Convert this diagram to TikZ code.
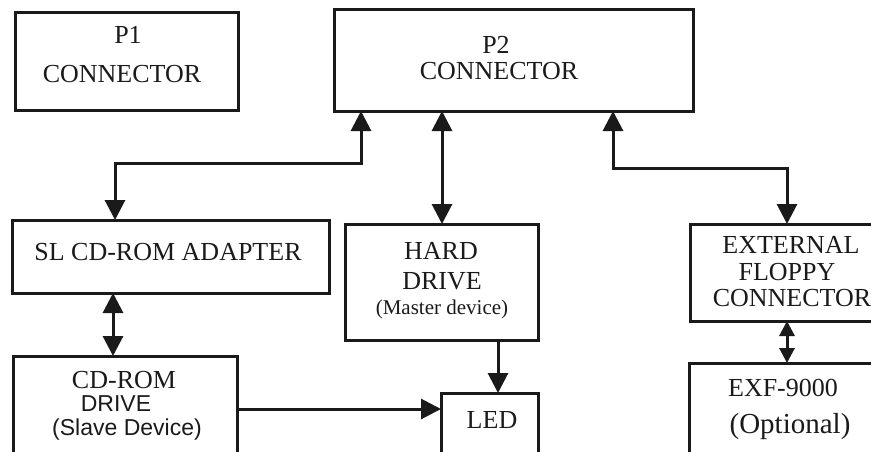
\documentclass[tikz,border=0pt]{standalone}
\usepackage{fontspec}
\setmainfont{Liberation Serif}
\setsansfont{Liberation Sans}
\usetikzlibrary{arrows.meta}
\definecolor{ink}{HTML}{1A1A1A}
\tikzset{
  box/.style={draw=ink, line width=3pt, inner sep=0pt, outer sep=0pt, rectangle},
  txt/.style={inner sep=0pt, text=ink, font=\fontsize{26}{30}\selectfont},
  sanstxt/.style={inner sep=0pt, text=ink, font=\sffamily\fontsize{23}{27}\selectfont},
  smalltxt/.style={inner sep=0pt, text=ink, font=\fontsize{21}{25}\selectfont},
  bigtxt/.style={inner sep=0pt, text=ink, font=\fontsize{29}{33}\selectfont},
  wire/.style={draw=ink, line width=3pt},
  both/.style={wire, {Triangle[length=20pt,width=20pt]}-{Triangle[length=20pt,width=20pt]}},
  one/.style={wire, -{Triangle[length=20pt,width=20pt]}},
  shortboth/.style={wire, {Triangle[length=15pt,width=15pt]}-{Triangle[length=15pt,width=15pt]}}
}
\begin{document}
\begin{tikzpicture}[x=1pt,y=-1pt]
\useasboundingbox (0,0) rectangle (871,451);
\clip (0,0) rectangle (871,451);
% boxes
\node[box, minimum width=223pt, minimum height=98pt] (p1) at (126.5,61) {};
\node[box, minimum width=359pt, minimum height=102pt] (p2) at (513.5,60) {};
\node[box, minimum width=317pt, minimum height=73pt] (sl) at (170.5,256.5) {};
\node[box, minimum width=224pt, minimum height=124pt] (cd) at (125,418) {};
\node[box, minimum width=193pt, minimum height=116pt] (hd) at (441.5,282) {};
\node[box, minimum width=97pt, minimum height=87pt] (led) at (489.5,436.5) {};
\node[box, minimum width=200pt, minimum height=97pt] (ext) at (790,272.5) {};
\node[box, minimum width=201pt, minimum height=117pt] (exf) at (789.5,421.5) {};
% texts
\node[txt] (t1a) at (128,35) {P1};
\node[txt] (t1b) at (122,74) {CONNECTOR};
\node[txt] (t2a) at (496,45) {P2};
\node[txt] (t2b) at (499,71) {CONNECTOR};
\node[txt] (tsl) at (168,252) {SL CD-ROM ADAPTER};
\node[txt] (tcda) at (124,380) {CD-ROM};
\node[sanstxt] (tcdb) at (116,404) {DRIVE};
\node[sanstxt] (tcdc) at (127,430) {(Slave Device)};
\node[txt] (thda) at (441,251) {HARD};
\node[txt] (thdb) at (442,281) {DRIVE};
\node[smalltxt] (thdc) at (442,309) {(Master device)};
\node[txt] (tled) at (492,420) {LED};
\node[txt] (texa) at (791,245) {EXTERNAL};
\node[txt] (texb) at (787,272) {FLOPPY};
\node[txt] (texc) at (792,298) {CONNECTOR};
\node[txt] (tefa) at (783,388) {EXF-9000};
\node[bigtxt] (tefb) at (790,427) {(Optional)};
% connector coordinates
\coordinate (a1) at (361,163);
\coordinate (a1b) at (115,163);
\coordinate (a2) at (442,0);
\coordinate (a3) at (613,168);
\coordinate (a3b) at (787,168);
\coordinate (a4) at (113,0);
\coordinate (a5) at (498,0);
\coordinate (a6) at (0,409);
\coordinate (a7) at (787,0);
% connectors
\draw[both] (a1 |- p2.south) -- (a1) -- (a1b) -- (a1b |- sl.north);
\draw[both] (a2 |- p2.south) -- (a2 |- hd.north);
\draw[both] (a3 |- p2.south) -- (a3) -- (a3b) -- (a3b |- ext.north);
\draw[both] (a4 |- sl.south) -- (a4 |- cd.north);
\draw[one] (a5 |- hd.south) -- (a5 |- led.north);
\draw[one] (cd.east |- a6) -- (led.west |- a6);
\draw[shortboth] (a7 |- ext.south) -- (a7 |- exf.north);
\end{tikzpicture}
\end{document}
